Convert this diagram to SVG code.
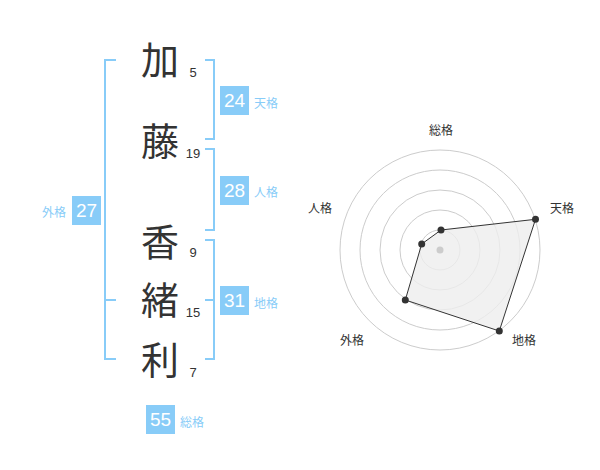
<svg xmlns="http://www.w3.org/2000/svg" width="600" height="470" viewBox="0 0 600 470">
<style>
.kan{font-family:"Noto Sans CJK JP","Noto Sans CJK SC",sans-serif;font-size:38px;fill:#333;text-anchor:middle}
.num{font-family:"Liberation Sans",Arial,sans-serif;font-size:13px;fill:#333;text-anchor:middle}
.box{fill:#88CCF8}
.bnum{font-family:"Liberation Sans",Arial,sans-serif;font-size:19px;fill:#fff;text-anchor:middle}
.lab{font-family:"Liberation Sans","Noto Sans CJK JP",sans-serif;font-size:12px;fill:#88CCF8}
.br{fill:none;stroke:#88CCF8;stroke-width:2}
.ring{fill:none;stroke:#ccc;stroke-width:1}
.rlab{font-family:"Liberation Sans","Noto Sans CJK JP",sans-serif;font-size:12px;fill:#333;text-anchor:middle}
.pt{fill:#333}
</style>
<rect width="600" height="470" fill="#fff"/>
<g id="connectors">
<path class="br" d="M116,60 H105 V359 H116 M105,300 H116"/>
<path class="br" d="M205,60 H214 V139 H205"/>
<path class="br" d="M205,149 H214 V230 H205"/>
<path class="br" d="M205,240 H214 V359 H205 M205,300 H214"/>
</g>
<g id="char1"><text class="kan" x="160" y="74">加</text><text class="num" x="193" y="77">5</text></g>
<g id="char2"><text class="kan" x="160" y="155">藤</text><text class="num" x="193" y="158">19</text></g>
<g id="char3"><text class="kan" x="160" y="256">香</text><text class="num" x="193" y="257">9</text></g>
<g id="char4"><text class="kan" x="160" y="314">緒</text><text class="num" x="193" y="317">15</text></g>
<g id="char5"><text class="kan" x="160" y="374">利</text><text class="num" x="193" y="377">7</text></g>
<g id="tenkaku"><rect class="box" x="220" y="86" width="29" height="29"/><text class="bnum" x="234.5" y="107">24</text><text class="lab" x="254" y="108">天格</text></g>
<g id="jinkaku"><rect class="box" x="220" y="176" width="29" height="29"/><text class="bnum" x="234.5" y="197">28</text><text class="lab" x="254" y="197">人格</text></g>
<g id="chikaku"><rect class="box" x="220" y="286" width="29" height="29"/><text class="bnum" x="234.5" y="307">31</text><text class="lab" x="254" y="308">地格</text></g>
<g id="gaikaku"><rect class="box" x="72" y="196" width="29" height="29"/><text class="bnum" x="86.5" y="217">27</text><text class="lab" x="66" y="217" text-anchor="end">外格</text></g>
<g id="soukaku"><rect class="box" x="146" y="405" width="29" height="29"/><text class="bnum" x="160.5" y="426">55</text><text class="lab" x="180" y="427">総格</text></g>
<g id="radar">
<circle class="ring" cx="440" cy="250" r="20"/>
<circle class="ring" cx="440" cy="250" r="40"/>
<circle class="ring" cx="440" cy="250" r="60"/>
<circle class="ring" cx="440" cy="250" r="80"/>
<circle class="ring" cx="440" cy="250" r="100"/>
<polygon points="441,230 535.5,219.3 499.3,331 405.3,300 421.7,244" fill="#eee" fill-opacity="0.8" stroke="#333" stroke-width="1"/>
<circle cx="440" cy="250" r="3.5" fill="#ccc"/>
<circle class="pt" cx="441" cy="230" r="3.5"/>
<circle class="pt" cx="535.5" cy="219.3" r="3.5"/>
<circle class="pt" cx="499.3" cy="331" r="3.5"/>
<circle class="pt" cx="405.3" cy="300" r="3.5"/>
<circle class="pt" cx="421.7" cy="244" r="3.5"/>
<text class="rlab" x="441" y="135">総格</text>
<text class="rlab" x="562" y="213">天格</text>
<text class="rlab" x="320" y="213">人格</text>
<text class="rlab" x="352" y="345">外格</text>
<text class="rlab" x="524" y="345">地格</text>
</g>
</svg>
